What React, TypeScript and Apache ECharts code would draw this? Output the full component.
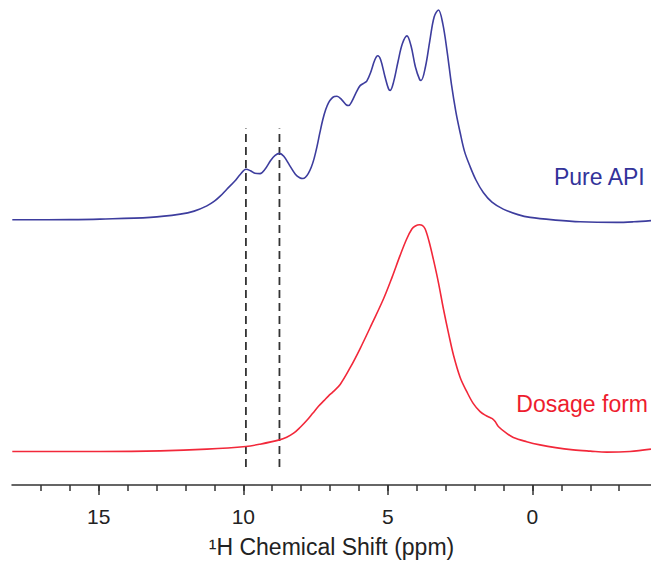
import React, { useEffect, useRef } from "react";
import * as echarts from "echarts";

// Chemical shift (ppm) and intensity (arbitrary units) for the pure API spectrum
const apiShift = [17.99, 16.0, 14.95, 13.22, 12.18, 11.7, 11.26, 11.0, 10.8, 10.57, 10.3, 10.1, 9.91, 9.75, 9.6, 9.42, 9.25, 9.05, 8.9, 8.75, 8.6, 8.4, 8.2, 8.05, 7.94, 7.85, 7.75, 7.65, 7.55, 7.45, 7.35, 7.25, 7.15, 7.05, 6.95, 6.85, 6.76, 6.6, 6.45, 6.36, 6.25, 6.1, 5.96, 5.8, 5.73, 5.6, 5.45, 5.35, 5.25, 5.1, 4.98, 4.92, 4.8, 4.65, 4.5, 4.34, 4.2, 4.05, 3.9, 3.85, 3.7, 3.55, 3.4, 3.25, 3.1, 2.95, 2.8, 2.65, 2.5, 2.35, 2.16, 1.95, 1.7, 1.4, 1.01, 0.5, 0.08, -0.8, -1.65, -2.91, -3.5, -4.1];
const apiIntensity = [266.3, 266.5, 267, 268.7, 272, 275, 280.3, 285, 290, 297, 305, 312, 317, 315.5, 313, 312.7, 317, 326, 331, 333, 330, 321, 312, 308.5, 307.7, 309, 313, 319, 328, 340, 354, 367, 377, 384, 388, 390, 390.3, 387, 382, 381, 385, 394, 401, 404, 405.5, 414, 427, 431, 427, 410, 398, 396.3, 405, 425, 443, 451, 441, 420, 407, 406.3, 420, 446, 470, 477, 463, 435, 402, 375, 353.7, 335, 320, 306, 293.7, 284, 277, 271.5, 268.7, 266, 264.3, 263.7, 264.3, 265.5];

// Chemical shift (ppm) and intensity for the dosage form spectrum
const doseShift = [17.99, 14.95, 12.87, 11.26, 9.91, 9.42, 8.75, 8.5, 8.26, 8.03, 7.8, 7.6, 7.4, 7.2, 7.05, 6.9, 6.65, 6.3, 5.96, 5.55, 5.15, 4.85, 4.58, 4.35, 4.17, 4.05, 3.91, 3.8, 3.71, 3.58, 3.43, 3.25, 3.08, 2.9, 2.73, 2.5, 2.27, 2.05, 1.81, 1.6, 1.47, 1.38, 1.29, 1.18, 0.9, 0.66, 0.2, -0.26, -0.8, -1.41, -2.0, -2.57, -3.37, -4.1];
const doseIntensity = [33.7, 33.7, 34.3, 36, 38.7, 41, 45.3, 48, 52, 58, 65, 72, 79, 85, 89.5, 93.5, 101, 118, 137, 162, 187, 209, 230.3, 247, 257, 260, 261.3, 260.5, 257, 245, 227, 203, 177, 152, 130.3, 108, 93.7, 82, 73.7, 69.5, 67.7, 66.5, 63.7, 58.7, 52, 47.7, 43.5, 40.3, 37.5, 35.3, 34, 33, 33.7, 36];

// Marker positions (ppm) of the dashed reference lines
const markerShifts = [9.91, 8.75];
const markerRange = [18, 358];

const majorTicks = [0, 5, 10, 15];
const minorTicks = [-3, -2, -1, 0, 1, 2, 3, 4, 5, 6, 7, 8, 9, 10, 11, 12, 13, 14, 15, 16, 17];

const seriesLabels = ["Pure API", "Dosage form"];

const FONT = "'Liberation Sans', Arial, Helvetica, sans-serif";

export default function App() {
  const ref = useRef<HTMLDivElement>(null);
  useEffect(() => {
    document.body.style.margin = "0";
    if (!ref.current) return;
    const chart = echarts.init(ref.current, undefined, { renderer: "svg" });
    const zip = (xs: number[], ys: number[]) => xs.map((x, i) => [x, ys[i]]);
    const markerSeries = markerShifts.map((s) => ({
      type: "line",
      xAxisIndex: 0,
      data: [[s, markerRange[0]], [s, markerRange[1]]],
      symbol: "none",
      lineStyle: { color: "#333", width: 1.8, type: [8, 5] },
      z: 1,
    }));
    chart.setOption({
      animation: false,
      grid: { left: 12, right: 0, top: 0, bottom: 76 },
      xAxis: [
        {
          type: "value",
          inverse: true,
          min: -4.1,
          max: 18,
          name: "¹H Chemical Shift (ppm)",
          nameLocation: "middle",
          nameGap: 50,
          nameTextStyle: { fontSize: 23, color: "#222", fontFamily: FONT },
          axisLine: { show: true, lineStyle: { color: "#333", width: 1.5 } },
          axisTick: { show: true, customValues: majorTicks, length: 10, lineStyle: { color: "#333", width: 1.5 } },
          axisLabel: { customValues: majorTicks, fontSize: 21, color: "#222", margin: 21, fontFamily: FONT },
          splitLine: { show: false },
        },
        {
          type: "value",
          inverse: true,
          min: -4.1,
          max: 18,
          position: "bottom",
          axisLine: { show: false },
          axisTick: { show: true, customValues: minorTicks, length: 6, lineStyle: { color: "#333", width: 1.5 } },
          axisLabel: { show: false },
          splitLine: { show: false },
        },
      ],
      yAxis: { type: "value", min: 0, max: 487, show: false, splitLine: { show: false } },
      series: [
        {
          type: "line",
          name: seriesLabels[0],
          data: zip(apiShift, apiIntensity),
          smooth: 0.35,
          symbol: "none",
          lineStyle: { color: "#3d3d9e", width: 1.6 },
          z: 2,
        },
        {
          type: "line",
          name: seriesLabels[1],
          data: zip(doseShift, doseIntensity),
          smooth: 0.35,
          symbol: "none",
          lineStyle: { color: "#f2283a", width: 1.6 },
          z: 2,
        },
        ...markerSeries,
      ],
      graphic: [
        {
          type: "text",
          right: 5,
          top: 165,
          style: { text: seriesLabels[0], fill: "#33339a", font: `23px ${FONT}` },
        },
        {
          type: "text",
          right: 3,
          top: 392,
          style: { text: seriesLabels[1], fill: "#ee1c2e", font: `23px ${FONT}` },
        },
      ],
    });
    return () => chart.dispose();
  }, []);
  return <div ref={ref} style={{ width: 651, height: 563 }} />;
}
